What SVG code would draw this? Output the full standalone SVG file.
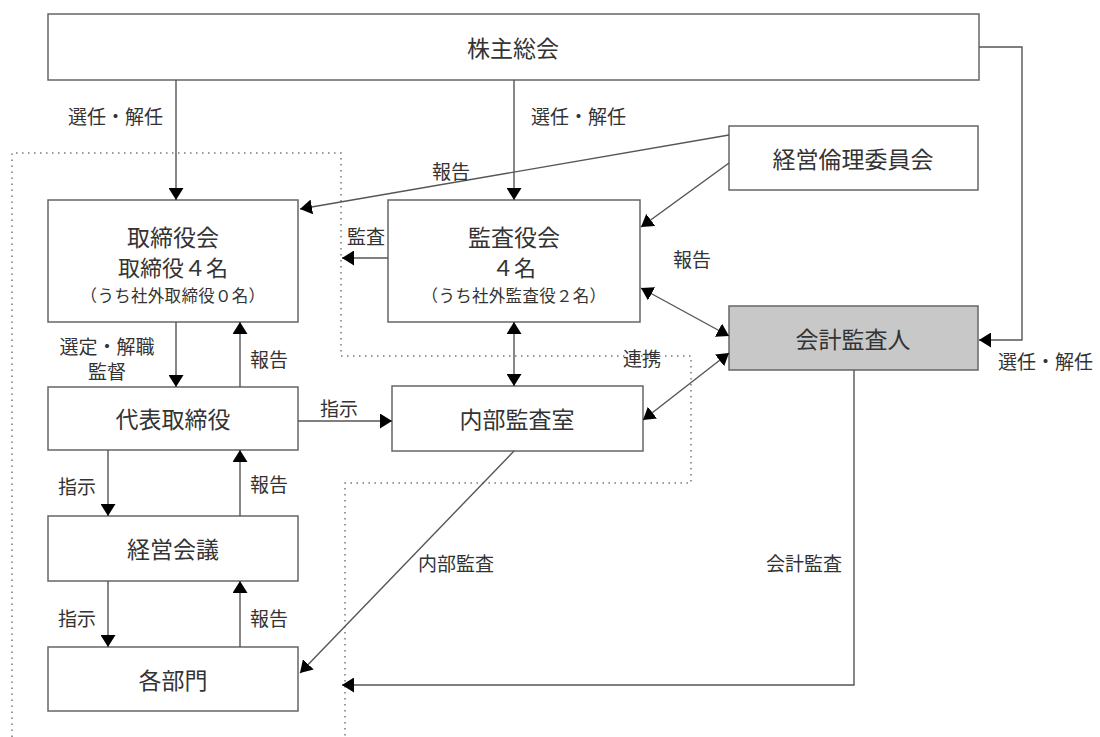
<svg xmlns="http://www.w3.org/2000/svg" width="1100" height="737" viewBox="0 0 1100 737">
<style>
.box{fill:#fff;stroke:#666;stroke-width:1.5}
.gray{fill:#c8c8c8}
.t{font-family:"Noto Sans CJK JP","Noto Sans CJK SC",sans-serif;fill:#333;dominant-baseline:central}
.big{font-size:23px;text-anchor:middle}
.mid{font-size:22px;text-anchor:middle}
.sub{font-size:16.5px;text-anchor:middle;letter-spacing:0.3px}
.lab{font-size:19px}
.c{stroke:#555;stroke-width:1.4;fill:none}
.dot{stroke:#777;stroke-width:1.5;fill:none;stroke-dasharray:1.5 4.5}
</style>
<defs>
<marker id="ah" viewBox="0 0 12 15" refX="12" refY="7.5" markerWidth="12" markerHeight="15" markerUnits="userSpaceOnUse" orient="auto-start-reverse">
<path d="M0,0 L12,7.5 L0,15 z" fill="#000"/>
</marker>
</defs>
<g id="boundary">
<path class="dot" d="M12,737 V153 H341 V356 H691 V483 H345 V737"/>
</g>
<g id="n-kabunushi"><rect class="box" x="48" y="14" width="931" height="66"/><text class="t big" x="513" y="47">株主総会</text></g>
<g id="n-rinri"><rect class="box" x="729" y="126" width="249" height="64"/><text class="t big" x="853" y="158">経営倫理委員会</text></g>
<g id="n-torishimariyakukai"><rect class="box" x="48" y="200" width="250" height="122"/><text class="t big" x="173" y="236">取締役会</text><text class="t mid" x="173" y="266">取締役４名</text><text class="t sub" x="173" y="295">（うち社外取締役０名）</text></g>
<g id="n-kansayakukai"><rect class="box" x="388" y="200" width="252" height="122"/><text class="t big" x="514" y="236">監査役会</text><text class="t mid" x="514" y="266">４名</text><text class="t sub" x="514" y="295">（うち社外監査役２名）</text></g>
<g id="n-kaikei"><rect class="box gray" x="729" y="306" width="249" height="64"/><text class="t big" x="853" y="338">会計監査人</text></g>
<g id="n-daihyo"><rect class="box" x="48" y="387" width="250" height="63"/><text class="t big" x="173" y="418">代表取締役</text></g>
<g id="n-naibu"><rect class="box" x="392" y="386" width="251" height="65"/><text class="t big" x="517" y="418">内部監査室</text></g>
<g id="n-keiei"><rect class="box" x="48" y="516" width="250" height="65"/><text class="t big" x="173" y="548">経営会議</text></g>
<g id="n-kakubumon"><rect class="box" x="48" y="647" width="250" height="64"/><text class="t big" x="173" y="679">各部門</text></g>
<g id="connectors">
<path class="c" d="M176,80 V200" marker-end="url(#ah)"/>
<path class="c" d="M514,80 V200" marker-end="url(#ah)"/>
<path class="c" d="M979,47 H1022 V340 H979" marker-end="url(#ah)"/>
<path class="c" d="M729,135 L300,209" marker-end="url(#ah)"/>
<path class="c" d="M729,163 L641,227" marker-end="url(#ah)"/>
<path class="c" d="M388,258 H342" marker-end="url(#ah)"/>
<path class="c" d="M641,288 L729,336" marker-start="url(#ah)" marker-end="url(#ah)"/>
<path class="c" d="M514,322 V386" marker-start="url(#ah)" marker-end="url(#ah)"/>
<path class="c" d="M643,420 L729,353" marker-start="url(#ah)" marker-end="url(#ah)"/>
<path class="c" d="M176,322 V387" marker-end="url(#ah)"/>
<path class="c" d="M240,387 V322" marker-end="url(#ah)"/>
<path class="c" d="M298,421 H392" marker-end="url(#ah)"/>
<path class="c" d="M108,450 V516" marker-end="url(#ah)"/>
<path class="c" d="M240,516 V450" marker-end="url(#ah)"/>
<path class="c" d="M108,581 V647" marker-end="url(#ah)"/>
<path class="c" d="M240,647 V581" marker-end="url(#ah)"/>
<path class="c" d="M514,451 L300,673" marker-end="url(#ah)"/>
<path class="c" d="M854,370 V685 H342" marker-end="url(#ah)"/>
</g>
<g id="labels">
<text class="t lab" x="68" y="115">選任・解任</text>
<text class="t lab" x="531" y="115">選任・解任</text>
<text class="t lab" x="432" y="170">報告</text>
<text class="t lab" x="347" y="235">監査</text>
<text class="t lab" x="673" y="258">報告</text>
<text class="t lab" x="623" y="357">連携</text>
<text class="t lab" x="998" y="360">選任・解任</text>
<text class="t lab" x="107" y="345" text-anchor="middle">選定・解職</text>
<text class="t lab" x="107" y="370" text-anchor="middle">監督</text>
<text class="t lab" x="250" y="358">報告</text>
<text class="t lab" x="320" y="407">指示</text>
<text class="t lab" x="58" y="485">指示</text>
<text class="t lab" x="250" y="483">報告</text>
<text class="t lab" x="58" y="617">指示</text>
<text class="t lab" x="250" y="617">報告</text>
<text class="t lab" x="418" y="562">内部監査</text>
<text class="t lab" x="766" y="562">会計監査</text>
</g>
</svg>
